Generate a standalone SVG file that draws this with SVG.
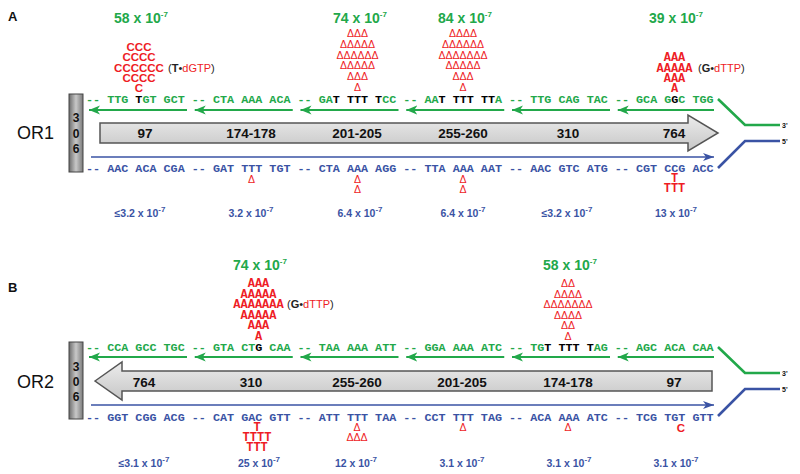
<svg xmlns="http://www.w3.org/2000/svg" width="800" height="474" viewBox="0 0 800 474">
<style>
.seq{font-family:"Liberation Mono","Courier New",monospace;font-weight:bold;font-size:11.75px}
.g{fill:#22a84a}.b{fill:#3a53a4}.r{fill:#ee1c25}.k{fill:#000}
.num{font-family:"Liberation Sans",Arial,sans-serif;font-weight:bold;font-size:14px;fill:#22a84a;text-anchor:middle}
.bnum{font-family:"Liberation Sans",Arial,sans-serif;font-weight:bold;font-size:10.5px;fill:#3a53a4;text-anchor:middle}
.sup{font-size:8px}
.dl{font-family:"Liberation Sans",Arial,sans-serif;font-size:10.5px;fill:#ee1c25;text-anchor:middle}
.rm{font-family:"Liberation Mono","Courier New",monospace;font-weight:bold;font-size:12px;fill:#ee1c25;text-anchor:middle}
.rc{font-family:"Liberation Sans",Arial,sans-serif;font-weight:bold;font-size:11.5px;fill:#ee1c25;text-anchor:middle}
.par{font-family:"Liberation Sans",Arial,sans-serif;font-size:11px;fill:#222}
.lab{font-family:"Liberation Sans",Arial,sans-serif;font-weight:bold;font-size:13.5px;fill:#111;text-anchor:middle}
.or{font-family:"Liberation Sans",Arial,sans-serif;font-size:18px;fill:#111}
.pl{font-family:"Liberation Sans",Arial,sans-serif;font-weight:bold;font-size:13px;fill:#111}
.bx{font-family:"Liberation Sans",Arial,sans-serif;font-weight:bold;font-size:12px;fill:#111;text-anchor:middle}
.end{font-family:"Liberation Sans",Arial,sans-serif;font-weight:bold;font-size:7px;fill:#111}
.gl{stroke:#22a84a;stroke-width:2;fill:none}
.bl{stroke:#3a53a4;stroke-width:1.6;fill:none}
.ge{stroke:#22a84a;stroke-width:2.6;fill:none}
.be{stroke:#3a53a4;stroke-width:2.6;fill:none}
.big{fill:url(#gArrow);stroke:#555;stroke-width:1.5}
.box{fill:url(#gBox);stroke:#444;stroke-width:1}
</style>
<defs>
<linearGradient id="gArrow" x1="0" y1="0" x2="0" y2="1"><stop offset="0" stop-color="#ececec"/><stop offset="1" stop-color="#c6c6c6"/></linearGradient>
<linearGradient id="gBox" x1="0" y1="0" x2="1" y2="0"><stop offset="0" stop-color="#6c6c6c"/><stop offset="0.5" stop-color="#c8c8c8"/><stop offset="1" stop-color="#7a7a7a"/></linearGradient>
<marker id="mg" markerUnits="userSpaceOnUse" markerWidth="12" markerHeight="10" refX="11" refY="5" orient="auto"><path d="M0,0.5 L11,5 L0,9.5 L3,5 Z" fill="#22a84a"/></marker>
<marker id="mb" markerUnits="userSpaceOnUse" markerWidth="12" markerHeight="10" refX="11" refY="5" orient="auto"><path d="M0,1 L11,5 L0,9 L3,5 Z" fill="#3a53a4"/></marker>
</defs>

<text class="pl" x="8" y="21">A</text>
<text class="pl" x="8" y="292">B</text>

<!-- ============ PANEL A ============ -->
<g id="OR1-label"><text class="or" x="17" y="139">OR1</text></g>
<g id="OR1-box306">
<rect class="box" x="69" y="94" width="14" height="78"/>
<text class="bx" x="76" y="122">3</text><text class="bx" x="76" y="138">0</text><text class="bx" x="76" y="153">6</text>
</g>
<g id="OR1-arrow">
<polygon class="big" points="100,123 688,123 688,115 718,133 688,151 688,143 100,143"/>
<text class="lab" x="145" y="138">97</text>
<text class="lab" x="251" y="138">174-178</text>
<text class="lab" x="357" y="138">201-205</text>
<text class="lab" x="463" y="138">255-260</text>
<text class="lab" x="568" y="138">310</text>
<text class="lab" x="674" y="138">764</text>
</g>
<g id="OR1-top-strand">
<text class="seq g" x="86" y="103">-- TTG <tspan class="k">T</tspan>GT GCT -- CTA AAA ACA -- GA<tspan class="k">T TTT T</tspan>CC -- AA<tspan class="k">T TTT TT</tspan>A -- TTG CAG TAC -- GCA G<tspan class="k">G</tspan>C TGG</text>
</g>
<g id="OR1-bottom-strand">
<text class="seq b" x="86" y="172">-- AAC ACA CGA -- GAT TTT TGT -- CTA AAA AGG -- TTA AAA AAT -- AAC GTC ATG -- CGT CCG ACC</text>
</g>
<g id="OR1-rates-top">
<text class="num" x="141" y="23">58 x 10<tspan class="sup" dy="-6">-7</tspan></text>
<text class="num" x="360" y="23">74 x 10<tspan class="sup" dy="-6">-7</tspan></text>
<text class="num" x="465" y="23">84 x 10<tspan class="sup" dy="-6">-7</tspan></text>
<text class="num" x="676" y="23">39 x 10<tspan class="sup" dy="-6">-7</tspan></text>
</g>
<g id="OR1-mut-97">
<text class="rc" x="139" y="51">CCC</text>
<text class="rc" x="139" y="61.3">CCCC</text>
<text class="rc" x="139" y="71.6">CCCCCC</text>
<text class="rc" x="139" y="81.9">CCCC</text>
<text class="rc" x="139" y="92.2">C</text>
<text class="par" x="168" y="72">(<tspan font-weight="bold">T</tspan>•<tspan class="r">dGTP</tspan>)</text>
</g>
<g id="OR1-mut-201">
<text class="dl" x="357.5" y="37">ΔΔΔ</text>
<text class="dl" x="357.5" y="47.8">ΔΔΔΔΔ</text>
<text class="dl" x="357.5" y="58.6">ΔΔΔΔΔΔ</text>
<text class="dl" x="357.5" y="69.4">ΔΔΔΔΔ</text>
<text class="dl" x="357.5" y="80.2">ΔΔΔ</text>
<text class="dl" x="357.5" y="91">Δ</text>
</g>
<g id="OR1-mut-255">
<text class="dl" x="463" y="37">ΔΔΔΔ</text>
<text class="dl" x="463" y="47.8">ΔΔΔΔΔΔ</text>
<text class="dl" x="463" y="58.6">ΔΔΔΔΔΔΔ</text>
<text class="dl" x="463" y="69.4">ΔΔΔΔΔ</text>
<text class="dl" x="463" y="80.2">ΔΔΔ</text>
<text class="dl" x="463" y="91">Δ</text>
</g>
<g id="OR1-mut-764">
<text class="rm" x="674.5" y="61">AAA</text>
<text class="rm" x="674.5" y="71.5">AAAAA</text>
<text class="rm" x="674.5" y="81.5">AAA</text>
<text class="rm" x="674.5" y="91.5">A</text>
<text class="par" x="698" y="72">(<tspan font-weight="bold">G</tspan>•<tspan class="r">dTTP</tspan>)</text>
</g>
<g id="OR1-mut-bottom">
<text class="dl" x="251.5" y="182.5">Δ</text>
<text class="dl" x="357.5" y="182.5">Δ</text>
<text class="dl" x="357.5" y="193">Δ</text>
<text class="dl" x="463" y="182.5">Δ</text>
<text class="dl" x="463" y="193">Δ</text>
<text class="rm" x="674.5" y="181.5">T</text>
<text class="rm" x="674.5" y="192">TTT</text>
</g>
<g id="OR1-rates-bottom">
<text class="bnum" x="140" y="217">≤3.2 x 10<tspan class="sup" dy="-5">-7</tspan></text>
<text class="bnum" x="251" y="217">3.2 x 10<tspan class="sup" dy="-5">-7</tspan></text>
<text class="bnum" x="360" y="217">6.4 x 10<tspan class="sup" dy="-5">-7</tspan></text>
<text class="bnum" x="463" y="217">6.4 x 10<tspan class="sup" dy="-5">-7</tspan></text>
<text class="bnum" x="567" y="217">≤3.2 x 10<tspan class="sup" dy="-5">-7</tspan></text>
<text class="bnum" x="676" y="217">13 x 10<tspan class="sup" dy="-5">-7</tspan></text>
</g>
<g id="OR1-ends">
<text class="end" x="782" y="128">3'</text>
<text class="end" x="782" y="144">5'</text>
</g>

<!-- ============ PANEL B ============ -->
<g id="OR2-label"><text class="or" x="17" y="388">OR2</text></g>
<g id="OR2-box306">
<rect class="box" x="69" y="342" width="14" height="77"/>
<text class="bx" x="76" y="371">3</text><text class="bx" x="76" y="386">0</text><text class="bx" x="76" y="401">6</text>
</g>
<g id="OR2-arrow">
<polygon class="big" points="95,381 122,362 122,371 712,371 712,391 122,391 122,400"/>
<text class="lab" x="144" y="387">764</text>
<text class="lab" x="251" y="387">310</text>
<text class="lab" x="357" y="387">255-260</text>
<text class="lab" x="462" y="387">201-205</text>
<text class="lab" x="568" y="387">174-178</text>
<text class="lab" x="674" y="387">97</text>
</g>
<g id="OR2-top-strand">
<text class="seq g" x="86" y="351">-- CCA GCC TGC -- GTA CT<tspan class="k">G</tspan> CAA -- TAA AAA ATT -- GGA AAA ATC -- TG<tspan class="k">T TTT T</tspan>AG -- AGC ACA CAA</text>
</g>
<g id="OR2-bottom-strand">
<text class="seq b" x="86" y="421">-- GGT CGG ACG -- CAT GAC GTT -- ATT TTT TAA -- CCT TTT TAG -- ACA AAA ATC -- TCG TGT GTT</text>
</g>
<g id="OR2-rates-top">
<text class="num" x="260" y="270">74 x 10<tspan class="sup" dy="-6">-7</tspan></text>
<text class="num" x="570" y="270">58 x 10<tspan class="sup" dy="-6">-7</tspan></text>
</g>
<g id="OR2-mut-310">
<text class="rm" x="258.5" y="287">AAA</text>
<text class="rm" x="258.5" y="297.6">AAAAA</text>
<text class="rm" x="258.5" y="308.2">AAAAAAA</text>
<text class="rm" x="258.5" y="318.8">AAAAA</text>
<text class="rm" x="258.5" y="329.4">AAA</text>
<text class="rm" x="258.5" y="340">A</text>
<text class="par" x="287" y="308">(<tspan font-weight="bold">G</tspan>•<tspan class="r">dTTP</tspan>)</text>
</g>
<g id="OR2-mut-174">
<text class="dl" x="568" y="287">ΔΔ</text>
<text class="dl" x="568" y="297.6">ΔΔΔΔ</text>
<text class="dl" x="568" y="308.2">ΔΔΔΔΔΔΔ</text>
<text class="dl" x="568" y="318.8">ΔΔΔΔ</text>
<text class="dl" x="568" y="329.4">ΔΔ</text>
<text class="dl" x="568" y="340">Δ</text>
</g>
<g id="OR2-mut-bottom">
<text class="rm" x="257" y="430.5">T</text>
<text class="rm" x="257" y="441">TTTT</text>
<text class="rm" x="257" y="451">TTT</text>
<text class="dl" x="357" y="431">Δ</text>
<text class="dl" x="357" y="441">ΔΔΔ</text>
<text class="dl" x="463" y="431">Δ</text>
<text class="dl" x="568" y="431">Δ</text>
<text class="rc" x="681" y="431.5">C</text>
</g>
<g id="OR2-rates-bottom">
<text class="bnum" x="144" y="467">≤3.1 x 10<tspan class="sup" dy="-5">-7</tspan></text>
<text class="bnum" x="259" y="467">25 x 10<tspan class="sup" dy="-5">-7</tspan></text>
<text class="bnum" x="356" y="467">12 x 10<tspan class="sup" dy="-5">-7</tspan></text>
<text class="bnum" x="462" y="467">3.1 x 10<tspan class="sup" dy="-5">-7</tspan></text>
<text class="bnum" x="569" y="467">3.1 x 10<tspan class="sup" dy="-5">-7</tspan></text>
<text class="bnum" x="676" y="467">3.1 x 10<tspan class="sup" dy="-5">-7</tspan></text>
</g>
<g id="OR2-ends">
<text class="end" x="782" y="376">3'</text>
<text class="end" x="782" y="392">5'</text>
</g>

<!-- ============ CONNECTORS ============ -->
<g id="connectors">
<line class="gl" marker-end="url(#mg)" x1="187" y1="110" x2="89" y2="110"/>
<line class="gl" marker-end="url(#mg)" x1="292.75" y1="110" x2="194.75" y2="110"/>
<line class="gl" marker-end="url(#mg)" x1="398.5" y1="110" x2="300.5" y2="110"/>
<line class="gl" marker-end="url(#mg)" x1="504.25" y1="110" x2="406.25" y2="110"/>
<line class="gl" marker-end="url(#mg)" x1="610" y1="110" x2="512" y2="110"/>
<line class="gl" marker-end="url(#mg)" x1="714" y1="110" x2="617.75" y2="110"/>
<line class="bl" marker-end="url(#mb)" x1="91" y1="157" x2="714" y2="157"/>
<polyline class="ge" points="718,99 745,125 780,125"/>
<polyline class="be" points="718,168 745,141 780,141"/>

<line class="gl" marker-end="url(#mg)" x1="187" y1="357" x2="89" y2="357"/>
<line class="gl" marker-end="url(#mg)" x1="292.75" y1="357" x2="194.75" y2="357"/>
<line class="gl" marker-end="url(#mg)" x1="398.5" y1="357" x2="300.5" y2="357"/>
<line class="gl" marker-end="url(#mg)" x1="504.25" y1="357" x2="406.25" y2="357"/>
<line class="gl" marker-end="url(#mg)" x1="610" y1="357" x2="512" y2="357"/>
<line class="gl" marker-end="url(#mg)" x1="714" y1="357" x2="617.75" y2="357"/>
<line class="bl" marker-end="url(#mb)" x1="91" y1="405" x2="714" y2="405"/>
<polyline class="ge" points="718,347 745,373 780,373"/>
<polyline class="be" points="718,416 745,389 780,389"/>
</g>
</svg>
